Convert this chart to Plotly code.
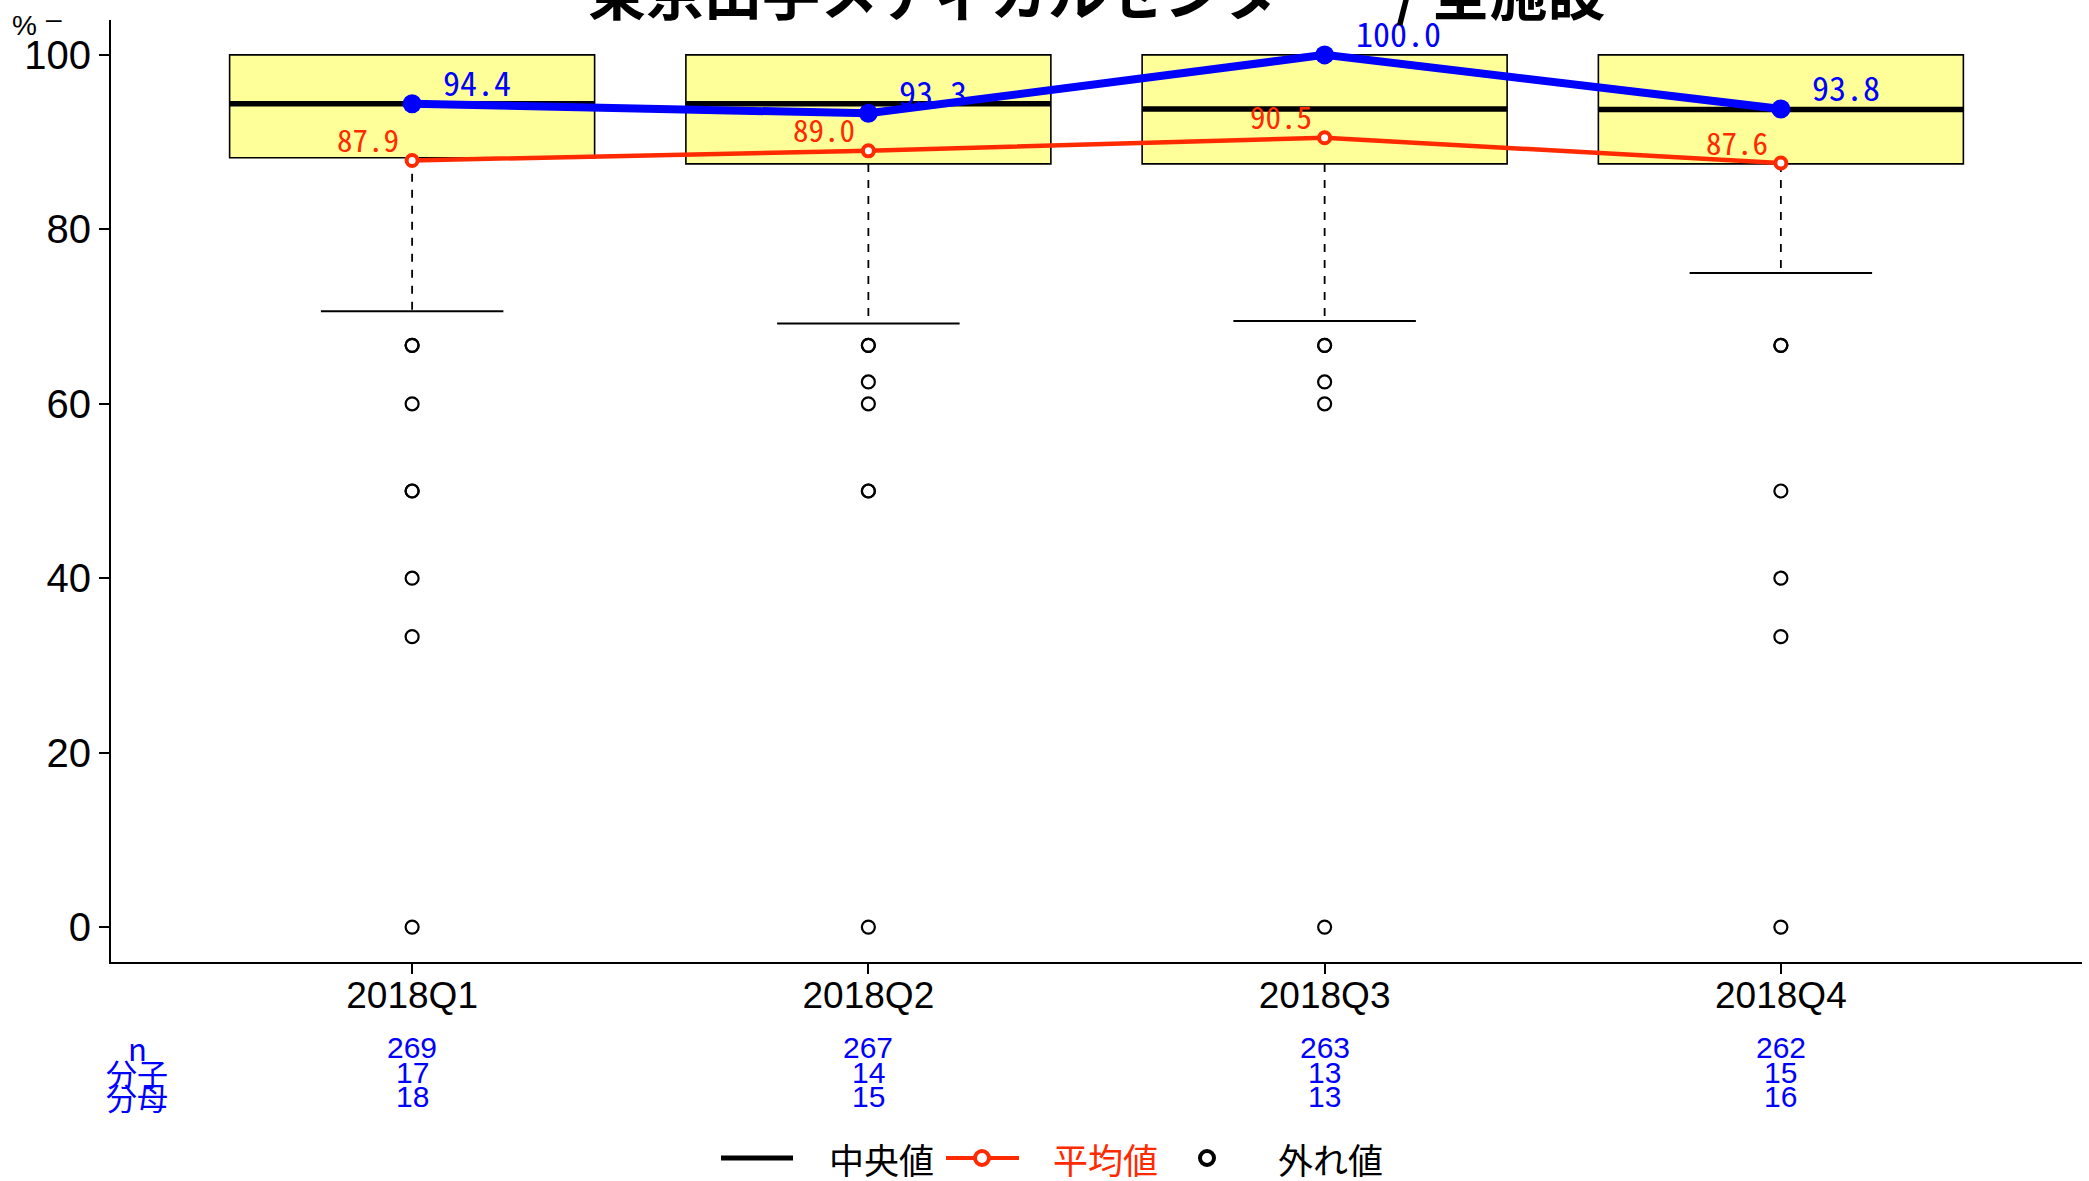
import plotly.graph_objects as go

# ---------------- data ----------------
categories = ["2018Q1", "2018Q2", "2018Q3", "2018Q4"]
positions = [1, 2, 3, 4]
box_q1 = [88.2, 87.5, 87.5, 87.5]
box_median = [94.4, 94.4, 93.8, 93.75]
box_q3 = [100.0, 100.0, 100.0, 100.0]
whisker_low = [70.6, 69.2, 69.5, 75.0]
whisker_high = [100.0, 100.0, 100.0, 100.0]
outliers = [
    [66.7, 66.7, 60.0, 50.0, 50.0, 40.0, 33.3, 0.0],
    [66.7, 66.7, 62.5, 60.0, 50.0, 50.0, 0.0],
    [66.7, 66.7, 62.5, 60.0, 0.0],
    [66.7, 66.7, 50.0, 40.0, 33.3, 0.0],
]
mean_values = [87.9, 89.0, 90.5, 87.6]
hospital_values = [94.4, 93.3, 100.0, 93.8]
n_values = [269, 267, 263, 262]
numerator = [17, 14, 13, 15]
denominator = [18, 15, 13, 16]
row_labels = ["n", "分子", "分母"]
title_text = "東京山手メディカルセンター　/ 全施設"

# ---------------- style ----------------
W, H = 2089, 1181
ML, MR, MT, MB = 111, 7, 20, 219
PW, PH = W - ML - MR, H - MT - MB
BOX_W = 0.8
CAP_W = 0.4
RED = "#FF2A00"
BLUE = "#0000FF"
YELLOW = "#FFFF99"
SANS = "Liberation Sans, Arial, sans-serif"
MONO = "Noto Sans Mono CJK JP, DejaVu Sans Mono, monospace"
CJK = "Noto Sans CJK JP, Noto Sans CJK SC, sans-serif"


def px_x(px):
    return (px - ML) / PW


def px_y(py):
    return (H - MB - py) / PH


fig = go.Figure()

# box bodies
fig.add_trace(go.Box(
    x=positions, q1=box_q1, median=box_median, q3=box_q3,
    lowerfence=box_q1, upperfence=whisker_high,
    width=BOX_W, whiskerwidth=CAP_W / BOX_W,
    fillcolor=YELLOW, line=dict(color="black", width=1.6),
    boxpoints=False, showlegend=False, hoverinfo="skip",
))

# medians (thick)
mx, my = [], []
for p, m in zip(positions, box_median):
    mx += [p - BOX_W / 2, p + BOX_W / 2, None]
    my += [m, m, None]
fig.add_trace(go.Scatter(x=mx, y=my, mode="lines",
                         line=dict(color="black", width=5.5),
                         showlegend=False, hoverinfo="skip"))

# dashed whiskers
wx, wy = [], []
for p, a, b in zip(positions, box_q1, whisker_low):
    wx += [p, p, None]
    wy += [a, b, None]
fig.add_trace(go.Scatter(x=wx, y=wy, mode="lines",
                         line=dict(color="black", width=1.8, dash="8px,8px"),
                         showlegend=False, hoverinfo="skip"))
# whisker caps
cx, cy = [], []
for p, b in zip(positions, whisker_low):
    cx += [p - CAP_W / 2, p + CAP_W / 2, None]
    cy += [b, b, None]
fig.add_trace(go.Scatter(x=cx, y=cy, mode="lines",
                         line=dict(color="black", width=2),
                         showlegend=False, hoverinfo="skip"))

# outliers
ox, oy = [], []
for p, vals in zip(positions, outliers):
    for v in vals:
        ox.append(p)
        oy.append(v)
fig.add_trace(go.Scatter(x=ox, y=oy, mode="markers",
                         marker=dict(symbol="circle-open", size=13, color="black",
                                     line=dict(width=2.2, color="black")),
                         showlegend=False, hoverinfo="skip"))

# mean line
fig.add_trace(go.Scatter(x=positions, y=mean_values, mode="lines+markers",
                         line=dict(color=RED, width=4.5),
                         marker=dict(symbol="circle", size=11, color="white",
                                     line=dict(color=RED, width=4)),
                         showlegend=False, hoverinfo="skip"))

# hospital line
fig.add_trace(go.Scatter(x=positions, y=hospital_values, mode="lines+markers",
                         line=dict(color=BLUE, width=8),
                         marker=dict(symbol="circle", size=19, color=BLUE),
                         showlegend=False, hoverinfo="skip"))

annotations = []
for p, v in zip(positions, hospital_values):
    annotations.append(dict(x=p, y=v, xref="x", yref="y", text=f"{v:.1f}",
                            showarrow=False, xanchor="left", yanchor="middle",
                            xshift=29, yshift=22,
                            font=dict(family=MONO, size=34, color=BLUE)))
for p, v in zip(positions, mean_values):
    annotations.append(dict(x=p, y=v, xref="x", yref="y", text=f"{v:.1f}",
                            showarrow=False, xanchor="right", yanchor="middle",
                            xshift=-11, yshift=22,
                            font=dict(family=MONO, size=31, color=RED)))

# title (partly above the page, as in the original)
annotations.append(dict(x=0.5, y=1, xref="paper", yref="paper", text=f"<b>{title_text}</b>",
                        showarrow=False, xanchor="center", yanchor="bottom", yshift=-14,
                        font=dict(family=CJK, size=58, color="black")))
# y unit
annotations.append(dict(x=px_x(24), y=px_y(25), xref="paper", yref="paper", text="%",
                        showarrow=False, xanchor="center", yanchor="middle",
                        font=dict(family=SANS, size=28, color="black")))
annotations.append(dict(x=px_x(54), y=px_y(18), xref="paper", yref="paper", text="–",
                        showarrow=False, xanchor="center", yanchor="middle",
                        font=dict(family=SANS, size=28, color="black")))

# count table under the axis
row_y = [1047, 1072, 1096]
for label, ry in zip(row_labels, row_y):
    annotations.append(dict(x=px_x(137), y=px_y(ry), xref="paper", yref="paper", text=label,
                            showarrow=False, xanchor="center", yanchor="middle",
                            font=dict(family=CJK, size=31, color=BLUE)))
for row, ry in zip([n_values, numerator, denominator], row_y):
    for p, v in zip(positions, row):
        annotations.append(dict(x=p, y=px_y(ry), xref="x", yref="paper", text=str(v),
                                showarrow=False, xanchor="center", yanchor="middle",
                                font=dict(family=SANS, size=30, color=BLUE)))

# manual legend
LEG_Y = 1158
shapes = []
shapes.append(dict(type="line", xref="paper", yref="paper",
                   x0=px_x(721), x1=px_x(793), y0=px_y(LEG_Y), y1=px_y(LEG_Y),
                   line=dict(color="black", width=5)))
shapes.append(dict(type="line", xref="paper", yref="paper",
                   x0=px_x(946), x1=px_x(1019), y0=px_y(LEG_Y), y1=px_y(LEG_Y),
                   line=dict(color=RED, width=4)))
shapes.append(dict(type="circle", xref="paper", yref="paper",
                   xsizemode="pixel", ysizemode="pixel",
                   xanchor=px_x(982), yanchor=px_y(LEG_Y),
                   x0=-7, x1=7, y0=-7, y1=7,
                   fillcolor="white", line=dict(color=RED, width=4)))
shapes.append(dict(type="circle", xref="paper", yref="paper",
                   xsizemode="pixel", ysizemode="pixel",
                   xanchor=px_x(1207), yanchor=px_y(LEG_Y),
                   x0=-7, x1=7, y0=-7, y1=7,
                   fillcolor="white", line=dict(color="black", width=4)))
for txt, cxp, col in [("中央値", 881, "black"), ("平均値", 1105, RED), ("外れ値", 1330, "black")]:
    annotations.append(dict(x=px_x(cxp), y=px_y(LEG_Y), xref="paper", yref="paper", text=txt,
                            showarrow=False, xanchor="center", yanchor="middle",
                            font=dict(family=CJK, size=35, color=col)))

fig.update_layout(
    width=W, height=H,
    margin=dict(l=ML, r=MR, t=MT, b=MB, pad=0, autoexpand=False),
    paper_bgcolor="white", plot_bgcolor="white",
    showlegend=False,
    annotations=annotations,
    shapes=shapes,
    xaxis=dict(range=[0.34, 4.66], tickvals=positions, ticktext=categories,
               showline=True, linecolor="black", linewidth=2,
               ticks="outside", ticklen=10, tickwidth=2, tickcolor="black",
               showgrid=False, zeroline=False, automargin=False,
               ticklabelstandoff=-10,
               tickfont=dict(family=SANS, size=37, color="black")),
    yaxis=dict(range=[-4, 104], tickvals=[0, 20, 40, 60, 80, 100],
               showline=True, linecolor="black", linewidth=2,
               ticks="outside", ticklen=10, tickwidth=2, tickcolor="black",
               showgrid=False, zeroline=False, automargin=False,
               tickfont=dict(family=SANS, size=40, color="black")),
)

fig.write_html("out.html",
               config={"displayModeBar": False},
               post_script="document.body.style.margin='0';document.body.style.overflow='hidden';")
